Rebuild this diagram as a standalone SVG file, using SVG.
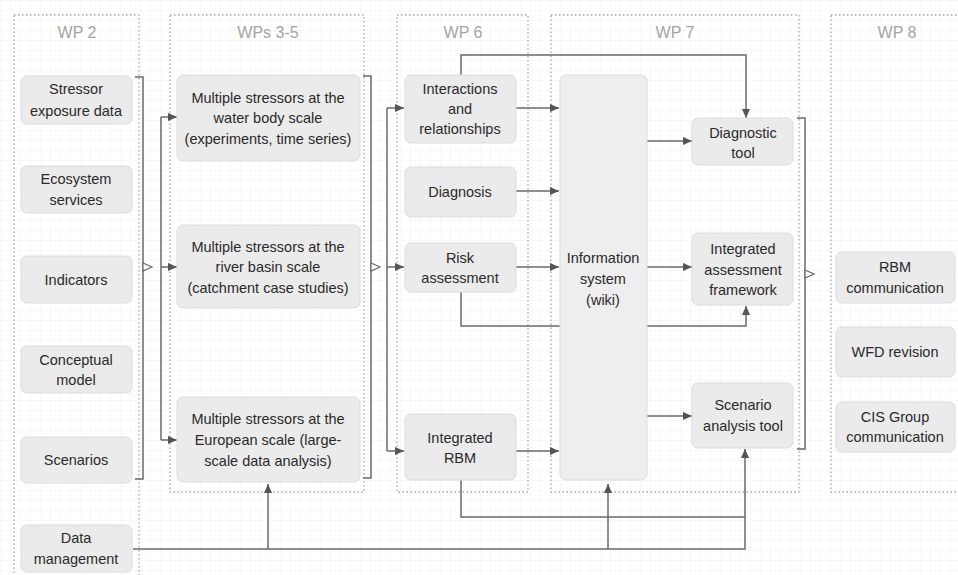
<svg xmlns="http://www.w3.org/2000/svg" width="958" height="575" viewBox="0 0 958 575">
<style>
.panel{fill:none;stroke:#a8a8a8;stroke-width:1.3;stroke-dasharray:1.5 2.5}
.ptitle{font-family:"Liberation Sans",Arial,sans-serif;font-size:16px;fill:#a4a4a4;text-anchor:middle}
.box{fill:#ebebeb;stroke:#dcdcdc;stroke-width:1}
.info{fill:#eeeeee;stroke:#dcdcdc;stroke-width:1}
.t{font-family:"Liberation Sans",Arial,sans-serif;font-size:14.5px;fill:#2a2a2a;text-anchor:middle}
.c{fill:none;stroke:#6a6a6a;stroke-width:1.5}
.ca{fill:none;stroke:#6a6a6a;stroke-width:1.5;marker-end:url(#arr)}
.open{fill:#ffffff;stroke:#6a6a6a;stroke-width:1.2}
</style>
<defs>
<pattern id="grid" width="10" height="10" patternUnits="userSpaceOnUse">
<path d="M10,0 H0 V10" fill="none" stroke="#f1f1f1" stroke-width="1"/>
</pattern>
<marker id="arr" viewBox="0 0 10 10" refX="10" refY="5" markerWidth="10" markerHeight="9" markerUnits="userSpaceOnUse" orient="auto">
<path d="M0,0.5 L10,5 L0,9.5 z" fill="#555555"/>
</marker>
</defs>
<rect x="0" y="0" width="958" height="575" fill="#ffffff"/>
<rect x="0" y="0" width="958" height="575" fill="url(#grid)"/>

<g id="panels">
<rect class="panel" x="14" y="15" width="125" height="570"/>
<rect class="panel" x="170" y="15" width="194" height="477"/>
<rect class="panel" x="397" y="15" width="131" height="477"/>
<rect class="panel" x="551" y="15" width="248" height="477"/>
<rect class="panel" x="831" y="15" width="140" height="477"/>
<text class="ptitle" x="77" y="38">WP 2</text>
<text class="ptitle" x="268" y="38">WPs 3-5</text>
<text class="ptitle" x="463" y="38">WP 6</text>
<text class="ptitle" x="675" y="38">WP 7</text>
<text class="ptitle" x="897" y="38">WP 8</text>
</g>

<g id="connectors">
<path class="c" d="M135,77 H143 V479 H135"/>
<path class="c" d="M161,117 V440"/>
<path class="ca" d="M161,117 H177"/>
<path class="ca" d="M161,267 H177"/>
<path class="ca" d="M161,440 H177"/>
<path class="c" d="M363,76 H371 V478 H363"/>
<path class="c" d="M387,108 V451"/>
<path class="ca" d="M387,108 H404"/>
<path class="ca" d="M387,267 H404"/>
<path class="ca" d="M387,451 H404"/>
<path class="ca" d="M516,108 H559"/>
<path class="ca" d="M516,191 H559"/>
<path class="ca" d="M516,267 H559"/>
<path class="ca" d="M516,451 H559"/>
<path class="ca" d="M461,75 V55 H746 V118"/>
<path class="ca" d="M647,141 H692"/>
<path class="ca" d="M647,267 H692"/>
<path class="ca" d="M647,416 H692"/>
<path class="ca" d="M461,292 V326 H746 V306"/>
<path class="c" d="M461,480 V517 H745"/>
<path class="ca" d="M133,549 H745 V449"/>
<path class="ca" d="M268,549 V484"/>
<path class="ca" d="M608,549 V484"/>
<path class="c" d="M797,118 H805 V449 H797"/>
<polygon class="open" points="143,263 152,267 143,271"/>
<polygon class="open" points="371,263 380,267 371,271"/>
<polygon class="open" points="805,270 814,274 805,278"/>
</g>

<g id="n-stressor"><rect class="box" x="21" y="76" width="111" height="48" rx="6"/><text class="t" x="76" y="94">Stressor</text><text class="t" x="76" y="116">exposure data</text></g>
<g id="n-ecosystem"><rect class="box" x="21" y="166" width="111" height="47" rx="6"/><text class="t" x="76" y="184">Ecosystem</text><text class="t" x="76" y="205">services</text></g>
<g id="n-indicators"><rect class="box" x="21" y="256" width="111" height="47" rx="6"/><text class="t" x="76" y="285">Indicators</text></g>
<g id="n-conceptual"><rect class="box" x="21" y="346" width="111" height="47" rx="6"/><text class="t" x="76" y="365">Conceptual</text><text class="t" x="76" y="385">model</text></g>
<g id="n-scenarios"><rect class="box" x="21" y="437" width="111" height="46" rx="6"/><text class="t" x="76" y="465">Scenarios</text></g>
<g id="n-datamgmt"><rect class="box" x="21" y="525" width="111" height="47" rx="6"/><text class="t" x="76" y="543">Data</text><text class="t" x="76" y="564">management</text></g>

<g id="n-waterbody"><rect class="box" x="177" y="75" width="183" height="86" rx="6"/><text class="t" x="268" y="103">Multiple stressors at the</text><text class="t" x="268" y="123">water body scale</text><text class="t" x="268" y="144">(experiments, time series)</text></g>
<g id="n-riverbasin"><rect class="box" x="177" y="225" width="183" height="83" rx="6"/><text class="t" x="268" y="252">Multiple stressors at the</text><text class="t" x="268" y="272">river basin scale</text><text class="t" x="268" y="293">(catchment case studies)</text></g>
<g id="n-european"><rect class="box" x="177" y="397" width="183" height="85" rx="6"/><text class="t" x="268" y="424">Multiple stressors at the</text><text class="t" x="268" y="445">European scale (large-</text><text class="t" x="268" y="466">scale data analysis)</text></g>

<g id="n-interactions"><rect class="box" x="405" y="75" width="111" height="68" rx="6"/><text class="t" x="460" y="94">Interactions</text><text class="t" x="460" y="114">and</text><text class="t" x="460" y="134">relationships</text></g>
<g id="n-diagnosis"><rect class="box" x="405" y="167" width="111" height="50" rx="6"/><text class="t" x="460" y="197">Diagnosis</text></g>
<g id="n-risk"><rect class="box" x="405" y="243" width="111" height="49" rx="6"/><text class="t" x="460" y="263">Risk</text><text class="t" x="460" y="283">assessment</text></g>
<g id="n-rbm"><rect class="box" x="405" y="414" width="111" height="66" rx="6"/><text class="t" x="460" y="443">Integrated</text><text class="t" x="460" y="463">RBM</text></g>

<g id="n-info"><rect class="info" x="560" y="75" width="87" height="405" rx="6"/><text class="t" x="603" y="263">Information</text><text class="t" x="603" y="284">system</text><text class="t" x="603" y="305">(wiki)</text></g>

<g id="n-diagtool"><rect class="box" x="692" y="118" width="101" height="47" rx="6"/><text class="t" x="743" y="138">Diagnostic</text><text class="t" x="743" y="158">tool</text></g>
<g id="n-iaf"><rect class="box" x="692" y="233" width="101" height="72" rx="6"/><text class="t" x="743" y="254">Integrated</text><text class="t" x="743" y="275">assessment</text><text class="t" x="743" y="295">framework</text></g>
<g id="n-scentool"><rect class="box" x="692" y="383" width="101" height="65" rx="6"/><text class="t" x="743" y="410">Scenario</text><text class="t" x="743" y="431">analysis tool</text></g>

<g id="n-rbmcomm"><rect class="box" x="836" y="252" width="119" height="51" rx="6"/><text class="t" x="895" y="272">RBM</text><text class="t" x="895" y="293">communication</text></g>
<g id="n-wfd"><rect class="box" x="836" y="327" width="119" height="50" rx="6"/><text class="t" x="895" y="357">WFD revision</text></g>
<g id="n-cis"><rect class="box" x="836" y="402" width="119" height="50" rx="6"/><text class="t" x="895" y="422">CIS Group</text><text class="t" x="895" y="442">communication</text></g>
</svg>
